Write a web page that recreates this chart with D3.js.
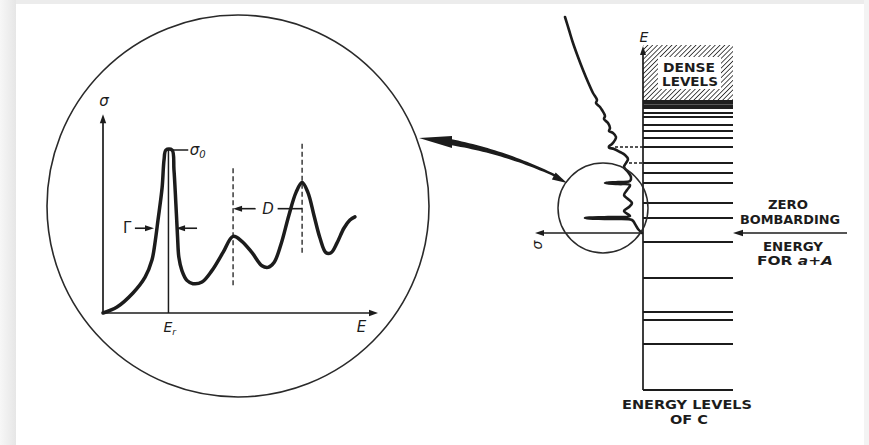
<!DOCTYPE html>
<html>
<head>
<meta charset="utf-8">
<script src="https://cdn.jsdelivr.net/npm/d3@7"></script>
<style>
  html, body { margin: 0; padding: 0; background: #fff; }
  svg { display: block; }
  text { font-family: "DejaVu Sans", sans-serif; fill: #1c1c1c; }
  text.caps { font-weight: bold; }
</style>
</head>
<body>
<svg id="fig" width="869" height="445"></svg>
<script>
// ---- Inset: cross-section sigma versus bombarding energy E (arbitrary units, sigma0 = 1)
const insetE = [0, 0.51, 1.09, 1.53, 1.78, 1.89, 2.0, 2.15, 2.22, 2.29, 2.51, 2.58, 2.65, 2.71, 2.76,
  2.87, 3.05, 3.27, 3.6, 3.96, 4.36, 4.73, 5.05, 5.42, 5.78, 6.0, 6.22, 6.47, 6.76, 7.02, 7.24,
  7.45, 7.67, 7.89, 8.11, 8.29, 8.51, 8.76, 8.98, 9.16];
const insetSigma = [0, 0.037, 0.123, 0.22, 0.325, 0.43, 0.57, 0.77, 0.94, 1.0, 1.0, 0.88, 0.67, 0.47, 0.34,
  0.26, 0.20, 0.18, 0.19, 0.26, 0.37, 0.47, 0.44, 0.37, 0.29, 0.28, 0.31, 0.42, 0.60, 0.74, 0.80,
  0.74, 0.60, 0.46, 0.37, 0.37, 0.43, 0.52, 0.57, 0.59];
const resonanceE = 2.38;          // E_r
const sigmaPeak = 1.0;            // sigma_0
const gammaSigma = 0.52;          // height of the width markers
const gammaEdges = [1.89, 2.62];  // half-width crossing points
const spacingPeaks = [4.73, 7.24];// peaks separated by D
const spacingSigma = 0.64;
const dashedFrom = [0.17, 0.37];
const dashedTo = [0.90, 1.05];

// ---- Right: energy levels of compound nucleus C (0 = zero bombarding energy for a + A)
const levelEnergies = [6.0, 5.8, 5.4, 5.1, 4.75, 4.3, 3.5, 3.0, 2.5, 1.5, 0.75,
  -0.45, -2.25, -3.95, -4.35, -5.55, -7.85];
const denseBand = [6.2, 6.65];
const denseTop = 9.4;
const resonanceLevels = [4.3, 3.5];
const resonanceSigma = [2.8, 1.4];

// Cross-section drawn sideways against the level scheme
const rightE = [10.8, 10.15, 9.5, 8.8, 8.15, 7.55, 7.0, 6.65, 6.5, 6.3, 6.15, 5.85, 5.7, 5.5, 5.25,
  5.1, 5.0, 4.8, 4.65, 4.45, 4.33, 4.27, 4.2, 4.05, 3.9, 3.7, 3.5, 3.3, 3.05, 2.8, 2.6, 2.55, 2.5, 2.45,
  2.4, 2.15, 1.9, 1.7, 1.5, 1.3, 1.1, 0.85, 0.8, 0.75, 0.7, 0.65, 0.45, 0.2, 0];
const rightSigma = [7.8, 7.4, 7.0, 6.5, 6.0, 5.5, 5.0, 4.6, 4.7, 4.3, 4.1, 3.8, 3.9, 3.5, 3.3,
  3.4, 3.0, 2.7, 2.8, 3.1, 3.4, 3.4, 2.9, 2.3, 1.8, 1.5, 1.7, 1.9, 1.5, 1.2, 1.3, 2.5, 3.8, 2.5,
  1.3, 1.6, 1.9, 1.5, 1.1, 1.4, 1.9, 1.3, 3.5, 5.8, 3.5, 1.1, 0.8, 0.5, 0.1];

const svg = d3.select("#fig");
const ink = "#1c1c1c";

// ---- page frame
const defs = svg.append("defs");
const grad = defs.append("linearGradient").attr("id", "edge").attr("x1", 0).attr("x2", 1);
grad.append("stop").attr("offset", 0).attr("stop-color", "#f7f7f7");
grad.append("stop").attr("offset", 1).attr("stop-color", "#e6e6e6");
svg.append("rect").attr("width", 869).attr("height", 445).attr("fill", "#fff");
svg.append("rect").attr("x", 0).attr("y", 0).attr("width", 16).attr("height", 445).attr("fill", "url(#edge)");
svg.append("rect").attr("x", 16).attr("y", 0).attr("width", 853).attr("height", 4).attr("fill", "#ececec");
svg.append("rect").attr("x", 864).attr("y", 0).attr("width", 5).attr("height", 445).attr("fill", "#f3f3f3");

// hatching for the dense-level region
const hatch = defs.append("pattern").attr("id", "hatch")
  .attr("patternUnits", "userSpaceOnUse").attr("width", 3.4).attr("height", 3.4)
  .attr("patternTransform", "rotate(45)");
hatch.append("line").attr("x1", 0).attr("y1", 0).attr("x2", 0).attr("y2", 3.4)
  .attr("stroke", "#222").attr("stroke-width", 1.6);

function arrowHead(g, tip, angle, len, half) {
  const ca = Math.cos(angle), sa = Math.sin(angle);
  const bx = tip[0] - ca * len, by = tip[1] - sa * len;
  const p = [tip, [bx - sa * half, by + ca * half], [bx + sa * half, by - ca * half]];
  g.append("path").attr("d", "M" + p.map(d => d.join(",")).join("L") + "Z").attr("fill", ink);
}

// ---- magnifying circle with inset plot
svg.append("circle").attr("cx", 238).attr("cy", 206).attr("r", 191)
  .attr("fill", "none").attr("stroke", "#2a2a2a").attr("stroke-width", 1.6);

const xIn = d3.scaleLinear().domain([0, 10]).range([103, 378]);
const yIn = d3.scaleLinear().domain([0, 1]).range([313, 150]);
const gIn = svg.append("g");

// axes
gIn.append("line").attr("x1", xIn(0)).attr("x2", xIn(9.85)).attr("y1", yIn(0)).attr("y2", yIn(0))
  .attr("stroke", ink).attr("stroke-width", 1.7);
arrowHead(gIn, [xIn(10), yIn(0)], 0, 9, 3.2);
gIn.append("line").attr("x1", xIn(0)).attr("x2", xIn(0)).attr("y1", yIn(0)).attr("y2", yIn(1.18))
  .attr("stroke", ink).attr("stroke-width", 1.7);
arrowHead(gIn, [xIn(0), yIn(1.22)], -Math.PI / 2, 9, 3.2);
gIn.append("text").attr("x", xIn(0) + 1).attr("y", yIn(1.27)).attr("text-anchor", "middle")
  .attr("font-size", 15).attr("font-style", "italic").text("σ");
gIn.append("text").attr("x", xIn(9.4)).attr("y", yIn(0) + 19).attr("text-anchor", "middle")
  .attr("font-size", 15).attr("font-style", "italic").text("E");

// resonance energy marker
gIn.append("line").attr("x1", xIn(resonanceE)).attr("x2", xIn(resonanceE))
  .attr("y1", yIn(0)).attr("y2", yIn(sigmaPeak)).attr("stroke", ink).attr("stroke-width", 1.5);
const er = gIn.append("text").attr("x", xIn(resonanceE) - 5).attr("y", yIn(0) + 19)
  .attr("font-size", 14).attr("font-style", "italic");
er.append("tspan").text("E");
er.append("tspan").attr("font-size", 9).attr("dy", 3).text("r");

// sigma0 tick and label
gIn.append("line").attr("x1", xIn(2.45)).attr("x2", xIn(3.1)).attr("y1", yIn(sigmaPeak)).attr("y2", yIn(sigmaPeak))
  .attr("stroke", ink).attr("stroke-width", 1.5);
const s0 = gIn.append("text").attr("x", xIn(3.15)).attr("y", yIn(sigmaPeak) + 5)
  .attr("font-size", 15).attr("font-style", "italic");
s0.append("tspan").text("σ");
s0.append("tspan").attr("font-size", 10).attr("dy", 3).text("0");

// dashed lines through neighbouring peaks
spacingPeaks.forEach((e, i) => {
  gIn.append("line").attr("x1", xIn(e)).attr("x2", xIn(e))
    .attr("y1", yIn(dashedFrom[i])).attr("y2", yIn(dashedTo[i]))
    .attr("stroke", ink).attr("stroke-width", 1.3).attr("stroke-dasharray", "5,3");
});

// level spacing D
const yD = yIn(spacingSigma);
gIn.append("line").attr("x1", xIn(spacingPeaks[0]) + 4).attr("x2", xIn(5.55)).attr("y1", yD).attr("y2", yD)
  .attr("stroke", ink).attr("stroke-width", 1.6);
arrowHead(gIn, [xIn(spacingPeaks[0]), yD], Math.PI, 9, 3);
gIn.append("text").attr("x", xIn(6.0)).attr("y", yD + 5).attr("text-anchor", "middle")
  .attr("font-size", 15).attr("font-style", "italic").text("D");
gIn.append("line").attr("x1", xIn(6.35)).attr("x2", xIn(spacingPeaks[1])).attr("y1", yD).attr("y2", yD)
  .attr("stroke", ink).attr("stroke-width", 1.6);

// width Gamma
const yG = yIn(gammaSigma);
gIn.append("text").attr("x", xIn(0.88)).attr("y", yG + 5).attr("text-anchor", "middle")
  .attr("font-size", 15).text("Γ");
gIn.append("line").attr("x1", xIn(1.16)).attr("x2", xIn(gammaEdges[0]) - 6).attr("y1", yG).attr("y2", yG)
  .attr("stroke", ink).attr("stroke-width", 1.6);
arrowHead(gIn, [xIn(gammaEdges[0]) - 1, yG], 0, 9, 3);
gIn.append("line").attr("x1", xIn(gammaEdges[1]) + 6).attr("x2", xIn(3.42)).attr("y1", yG).attr("y2", yG)
  .attr("stroke", ink).attr("stroke-width", 1.6);
arrowHead(gIn, [xIn(gammaEdges[1]) + 1, yG], Math.PI, 9, 3);

// the cross-section curve
const inset = insetE.map((e, i) => [e, insetSigma[i]]);
gIn.append("path").datum(inset)
  .attr("d", d3.line().x(d => xIn(d[0])).y(d => yIn(d[1])).curve(d3.curveCatmullRom.alpha(0.5)))
  .attr("fill", "none").attr("stroke", ink).attr("stroke-width", 3.5)
  .attr("stroke-linejoin", "round").attr("stroke-linecap", "round");

// ---- connecting double arrow between the two circles
(function () {
  const p0 = [450, 142], c = [506, 152], p2 = [558, 177];
  const n = 30, top = [], bot = [];
  for (let i = 0; i <= n; i++) {
    const t = i / n, u = 1 - t;
    const x = u * u * p0[0] + 2 * u * t * c[0] + t * t * p2[0];
    const y = u * u * p0[1] + 2 * u * t * c[1] + t * t * p2[1];
    const dx = 2 * u * (c[0] - p0[0]) + 2 * t * (p2[0] - c[0]);
    const dy = 2 * u * (c[1] - p0[1]) + 2 * t * (p2[1] - c[1]);
    const L = Math.hypot(dx, dy), w = 3.0 - 1.9 * t;
    top.push([x - dy / L * w, y + dx / L * w]);
    bot.push([x + dy / L * w, y - dx / L * w]);
  }
  const poly = top.concat(bot.reverse());
  svg.append("path").attr("d", "M" + poly.map(d => d.join(",")).join("L") + "Z").attr("fill", ink);
  svg.append("path").attr("d", "M419,138L452,136L452,148Z").attr("fill", ink);
  arrowHead(svg, [567, 183], Math.atan2(183 - 175, 567 - 552), 15, 4);
})();

// ---- right: level scheme
const xR = d3.scaleLinear().domain([0, 10]).range([643, 543]);
const yR = d3.scaleLinear().domain([0, 10]).range([233, 33]);
const gR = svg.append("g");
const levelEnd = 733;

// dense region
gR.append("rect").attr("x", xR(0)).attr("y", yR(denseTop))
  .attr("width", levelEnd - xR(0)).attr("height", yR(denseBand[1]) - yR(denseTop))
  .attr("fill", "url(#hatch)");
gR.append("rect").attr("x", xR(0)).attr("y", yR(denseBand[1]))
  .attr("width", levelEnd - xR(0)).attr("height", yR(denseBand[0]) - yR(denseBand[1]))
  .attr("fill", "#1e1e1e");
gR.append("line").attr("x1", xR(0)).attr("x2", levelEnd)
  .attr("y1", yR((denseBand[0] + denseBand[1]) / 2)).attr("y2", yR((denseBand[0] + denseBand[1]) / 2))
  .attr("stroke", "#666").attr("stroke-width", 0.8);
gR.append("rect").attr("x", 658).attr("y", 57).attr("width", 63).attr("height", 32).attr("fill", "#fff");
gR.append("text").attr("class", "caps").attr("x", 689).attr("y", 72).attr("text-anchor", "middle").attr("font-size", 12.5)
  .attr("textLength", 52).attr("lengthAdjust", "spacingAndGlyphs").text("DENSE");
gR.append("text").attr("class", "caps").attr("x", 690).attr("y", 86).attr("text-anchor", "middle").attr("font-size", 12.5)
  .attr("textLength", 56).attr("lengthAdjust", "spacingAndGlyphs").text("LEVELS");

// discrete levels
gR.selectAll("line.level").data(levelEnergies).enter().append("line").attr("class", "level")
  .attr("x1", xR(0)).attr("x2", levelEnd).attr("y1", d => yR(d)).attr("y2", d => yR(d))
  .attr("stroke", ink).attr("stroke-width", 1.8);
// ground level
gR.append("line").attr("x1", xR(0)).attr("x2", levelEnd).attr("y1", 390).attr("y2", 390)
  .attr("stroke", ink).attr("stroke-width", 1.8);

// resonances projected onto their levels
gR.selectAll("line.proj").data(resonanceLevels).enter().append("line").attr("class", "proj")
  .attr("x1", (d, i) => xR(resonanceSigma[i])).attr("x2", xR(0))
  .attr("y1", d => yR(d)).attr("y2", d => yR(d))
  .attr("stroke", ink).attr("stroke-width", 1.3).attr("stroke-dasharray", "3,2");

// E axis
gR.append("line").attr("x1", xR(0)).attr("x2", xR(0)).attr("y1", 390).attr("y2", yR(9.0))
  .attr("stroke", ink).attr("stroke-width", 1.7);
arrowHead(gR, [xR(0), yR(9.35)], -Math.PI / 2, 9, 3);
gR.append("text").attr("x", xR(0) + 1).attr("y", yR(9.55)).attr("text-anchor", "middle")
  .attr("font-size", 14).attr("font-style", "italic").text("E");

// sigma axis pointing left
gR.append("line").attr("x1", xR(0)).attr("x2", xR(10.3)).attr("y1", yR(0)).attr("y2", yR(0))
  .attr("stroke", ink).attr("stroke-width", 1.7);
arrowHead(gR, [xR(10.8), yR(0)], Math.PI, 9, 3);
gR.append("text").attr("transform", `translate(${xR(10.1)},${yR(0) + 12}) rotate(-90)`)
  .attr("text-anchor", "middle").attr("font-size", 14).attr("font-style", "italic").text("σ");

// small magnifying circle
svg.append("circle").attr("cx", 603).attr("cy", 208).attr("r", 45)
  .attr("fill", "none").attr("stroke", "#2a2a2a").attr("stroke-width", 1.5);

// sideways cross-section curve
const sideways = rightE.map((e, i) => [rightSigma[i], e]);
gR.append("path").datum(sideways)
  .attr("d", d3.line().x(d => xR(d[0])).y(d => yR(d[1])).curve(d3.curveCatmullRom.alpha(0.5)))
  .attr("fill", "none").attr("stroke", ink).attr("stroke-width", 2.6)
  .attr("stroke-linejoin", "round").attr("stroke-linecap", "round");

// zero bombarding energy
gR.append("line").attr("x1", 741).attr("x2", 847).attr("y1", yR(0)).attr("y2", yR(0))
  .attr("stroke", ink).attr("stroke-width", 1.7);
arrowHead(gR, [733, yR(0)], Math.PI, 10, 3.2);
const lab = [["ZERO", 788, 209, 40], ["BOMBARDING", 790, 224, 100], ["ENERGY", 793, 251, 60]];
lab.forEach(d => gR.append("text").attr("class", "caps").attr("x", d[1]).attr("y", d[2]).attr("text-anchor", "middle")
  .attr("font-size", 12.5).attr("textLength", d[3]).attr("lengthAdjust", "spacingAndGlyphs").text(d[0]));
const forLab = gR.append("text").attr("class", "caps").attr("x", 795).attr("y", 265).attr("text-anchor", "middle")
  .attr("font-size", 12.5).attr("textLength", 76).attr("lengthAdjust", "spacingAndGlyphs");
forLab.append("tspan").text("FOR ");
forLab.append("tspan").attr("font-style", "italic").text("a");
forLab.append("tspan").text("+");
forLab.append("tspan").attr("font-style", "italic").text("A");

gR.append("text").attr("class", "caps").attr("x", 687).attr("y", 409).attr("text-anchor", "middle").attr("font-size", 12.5)
  .attr("textLength", 130).attr("lengthAdjust", "spacingAndGlyphs").text("ENERGY LEVELS");
gR.append("text").attr("class", "caps").attr("x", 689).attr("y", 424).attr("text-anchor", "middle").attr("font-size", 12.5)
  .attr("textLength", 38).attr("lengthAdjust", "spacingAndGlyphs").text("OF C");
</script>
</body>
</html>
